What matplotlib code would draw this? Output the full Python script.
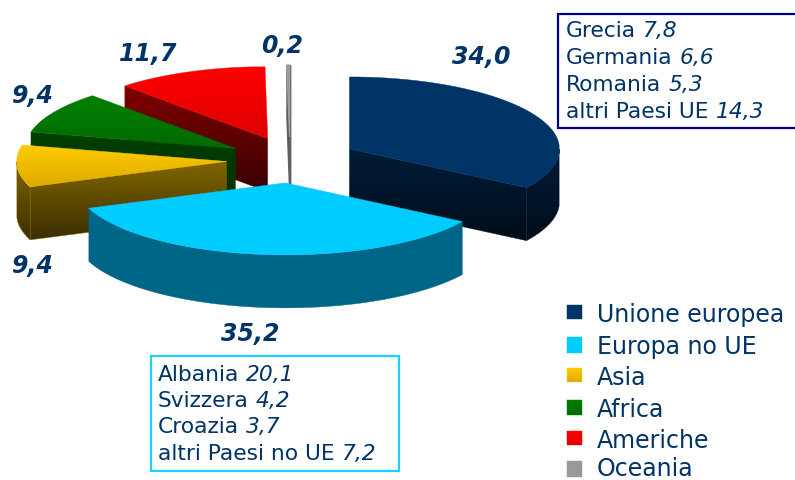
import numpy as np
import matplotlib
matplotlib.use("Agg")
import matplotlib.pyplot as plt
from matplotlib.colors import to_rgb
from matplotlib.patches import Polygon, Rectangle

# quote percentuali per area
areas = ["Unione europea", "Europa no UE", "Asia", "Africa", "Americhe", "Oceania"]
shares = [34.0, 35.2, 9.4, 9.4, 11.7, 0.2]
share_labels = ["34,0", "35,2", "9,4", "9,4", "11,7", "0,2"]

eu_names = ["Grecia", "Germania", "Romania", "altri Paesi UE"]
eu_values = ["7,8", "6,6", "5,3", "14,3"]
noneu_names = ["Albania", "Svizzera", "Croazia", "altri Paesi no UE"]
noneu_values = ["20,1", "4,2", "3,7", "7,2"]

# stile: colori (alto, basso) di superficie e fianco
top_colors = [("#003366", "#003366"), ("#00ccff", "#00ccff"), ("#ffcc00", "#dfa900"),
              ("#008000", "#006a00"), ("#ff0000", "#dd0000"), ("#a0a0a0", "#505050")]
side_colors = [("#001c38", "#000d1a"), ("#006688", "#006688"), ("#806600", "#3a2e00"),
               ("#004000", "#003000"), ("#800000", "#380000"), ("#606060", "#404040")]
label_pos = [(481, 57), (250, 334), (32, 266), (32, 96), (148, 54), (282, 46)]
legend_top = [306, 338, 369, 401, 432, 462]
legend_h = [14, 16, 14, 15, 14, 16]
legend_base = [322, 354, 385, 417, 448, 476]

cx, cy = 292, 161
rx, ry = 210, 72
depth = 53
explode_x, explode_y = 65.5, 23
oceania_shift = -2
navy = "#003366"

fig = plt.figure(figsize=(7.95, 4.81), dpi=100)
ax = fig.add_axes([0, 0, 1, 1])
ax.axis("off")


def grad_poly(pts, c1, c2, zorder, lw=0.3):
    # poligono riempito con gradiente verticale
    pts = np.array(pts)
    x0, y0 = pts.min(axis=0)
    x1, y1 = pts.max(axis=0)
    t = np.linspace(0, 1, 64)[:, None, None]
    img = (1 - t) * np.array(to_rgb(c1)) + t * np.array(to_rgb(c2))
    im = ax.imshow(img, extent=(x0, x1, y1, y0), aspect="auto", interpolation="bilinear",
                   zorder=zorder)
    patch = Polygon(pts, closed=True, transform=ax.transData, fc="none", ec="none")
    ax.add_patch(patch)
    im.set_clip_path(patch)
    ax.add_patch(Polygon(pts, closed=True, fc="none", ec=c1, lw=lw, zorder=zorder))


def arc(ox, oy, a0, a1):
    th = np.radians(np.linspace(a0, a1, max(int(abs(a1 - a0)) * 2, 2)))
    return np.column_stack([ox + rx * np.sin(th), oy - ry * np.cos(th)])


def draw_slice(i, a0, a1, z):
    mid = np.radians((a0 + a1) / 2)
    ox = cx + explode_x * np.sin(mid)
    oy = cy - explode_y * np.cos(mid)
    lw = 0.3
    if i == 5:
        ox += oceania_shift
        lw = 1.0
    c_top, c_side = top_colors[i], side_colors[i]
    down = np.array([0, depth])
    apex = np.array([ox, oy])
    # fianchi radiali visibili
    for ang, visible in ((a0, np.sin(np.radians(a0)) < 0), (a1, np.sin(np.radians(a1)) > 0)):
        if visible:
            p = arc(ox, oy, ang, ang)[0]
            grad_poly([apex, p, p + down, apex + down], c_side[0], c_side[1], z, lw)
    # bordo curvo nella metà frontale
    lo, hi = max(a0, 90), min(a1, 270)
    if hi > lo:
        rim = arc(ox, oy, lo, hi)
        grad_poly(np.vstack([rim, (rim + down)[::-1]]), c_side[0], c_side[1], z, lw)
    grad_poly(np.vstack([apex, arc(ox, oy, a0, a1)]), c_top[0], c_top[1], z + 0.5, lw)


edges = np.cumsum([0] + shares) / sum(shares) * 360
for z, i in zip(range(1, 7), [5, 4, 3, 2, 0, 1]):
    draw_slice(i, edges[i], edges[i + 1], z)

for txt, (x, y) in zip(share_labels, label_pos):
    ax.text(x, y, txt, color=navy, fontsize=17, fontweight="bold", fontstyle="italic",
            ha="center", va="center", zorder=10)

renderer = fig.canvas.get_renderer()


def box_text(names, values, x, ys):
    for n, v, y in zip(names, values, ys):
        t = ax.text(x, y, n, color=navy, fontsize=15.7, ha="left", va="baseline", zorder=12)
        w = t.get_window_extent(renderer).width
        ax.text(x + w + 7, y, v, color=navy, fontsize=15.7, fontstyle="italic",
                ha="left", va="baseline", zorder=12)


ax.add_patch(Rectangle((558, 14.5), 240, 114.5, fc="white", ec="#000080", lw=1.6, zorder=11))
box_text(eu_names, eu_values, 566, [37, 64, 91, 118])
ax.add_patch(Rectangle((151, 357), 248, 115, fc="white", ec="#1fd0ff", lw=1.6, zorder=11))
box_text(noneu_names, noneu_values, 158, [381, 407, 433, 460])

for i, name in enumerate(areas):
    y, h = legend_top[i], legend_h[i]
    grad_poly([(567, y), (582, y), (582, y + h), (567, y + h)],
              top_colors[i][0] if i < 5 else "#999999",
              top_colors[i][1] if i < 5 else "#999999", 12)
    ax.text(597, legend_base[i], name, color=navy, fontsize=17, ha="left", va="baseline",
            zorder=12)

ax.set_xlim(0, 795)
ax.set_ylim(481, 0)
fig.savefig("out.png", dpi=100)
